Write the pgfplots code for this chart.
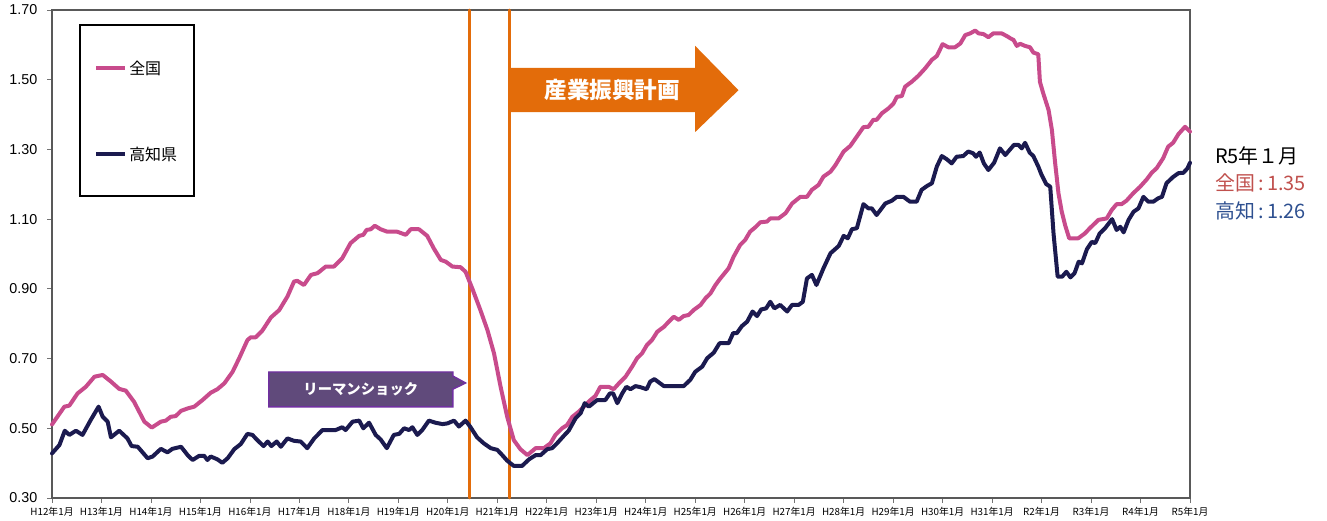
\documentclass[border=0pt]{standalone}
\usepackage{pgfplots}
\pgfplotsset{compat=1.18}
\usepackage{fontspec}
\setmainfont{Noto Sans CJK JP}
\newfontfamily\arial{Liberation Sans}

\definecolor{zenkoku}{HTML}{C84B8C}
\definecolor{kochi}{HTML}{1B1A4F}
\definecolor{orline}{HTML}{E36C0A}
\definecolor{plfill}{HTML}{604A7B}
\definecolor{pledge}{HTML}{7030A0}
\definecolor{redtxt}{HTML}{C0504D}
\definecolor{bluetxt}{HTML}{2E5090}

\begin{document}
\begin{tikzpicture}
\begin{axis}[
  at={(39bp,17.25bp)}, anchor=south west,
  scale only axis, width=853.5bp, height=366bp,
  xmin=0, xmax=276, ymin=0.3, ymax=1.7,
  xtick={0,12,...,276},
  xticklabels={H12年1月,H13年1月,H14年1月,H15年1月,H16年1月,H17年1月,H18年1月,H19年1月,H20年1月,H21年1月,H22年1月,H23年1月,H24年1月,H25年1月,H26年1月,H27年1月,H28年1月,H29年1月,H30年1月,H31年1月,R2年1月,R3年1月,R4年1月,R5年1月},
  ytick={0.3,0.5,...,1.71},
  /pgf/number format/fixed,
  /pgf/number format/fixed zerofill,
  /pgf/number format/precision=2,
  /pgf/number format/assume math mode=true,
  yticklabel style={font=\arial\fontsize{10.8}{12}\selectfont, xshift=-4bp},
  xticklabel style={font=\fontsize{7.4}{8}\selectfont},
  xtick pos=bottom, ytick pos=left, tick align=outside,
  major tick length=3.5bp,
  tick style={draw=gray!90!black, line width=0.6bp},
  axis line style={draw=gray!70!black, line width=1bp},
  clip=false,
  every axis plot/.append style={line join=round, line cap=round},
]
% orange marker lines
\addplot[orline, line width=2.2bp, forget plot] coordinates {(101.3,0.3) (101.3,1.7)};
\addplot[orline, line width=2.2bp, forget plot] coordinates {(111.0,0.3) (111.0,1.7)};

% 全国
\addplot[zenkoku, line width=3bp] coordinates {
(0,0.511) (3,0.562) (4.2,0.565) (6.2,0.600) (8.2,0.619) (10.3,0.648) (12.3,0.653)
(14.3,0.634) (16.3,0.613) (17.9,0.608) (19.9,0.576) (22.4,0.519) (24.2,0.502)
(26.4,0.519) (27.6,0.522) (28.8,0.533) (30,0.535) (31.3,0.550) (32.9,0.557)
(34.5,0.562) (36.5,0.581) (38.5,0.602) (40.1,0.612) (41.8,0.629) (43.8,0.662)
(45.4,0.701) (47.4,0.753) (48.2,0.761) (49.4,0.761) (51,0.780) (53.1,0.818)
(55.1,0.839) (57.1,0.878) (58.7,0.921) (59.5,0.923) (61.1,0.911) (62.8,0.940)
(64.4,0.945) (66.4,0.964) (68.4,0.964) (70.4,0.988) (72.4,1.031) (74.5,1.052)
(75.5,1.055) (76.3,1.069) (77.3,1.071) (78.3,1.081) (79.7,1.071) (81.3,1.064)
(83.7,1.064) (85.8,1.055) (87,1.071) (89,1.071) (91,1.052) (92.6,1.016)
(94.3,0.983) (95.5,0.978) (97.1,0.964) (99.1,0.962) (100.3,0.949) (101.9,0.902)
(103.9,0.839) (105.6,0.782) (107.2,0.715) (108.8,0.619) (110.4,0.533) (112,0.466)
(113.6,0.440) (115.3,0.423) (117.3,0.443) (119.3,0.443) (120.9,0.457) (122.1,0.481)
(123.7,0.500) (124.9,0.509) (126.2,0.533) (127.8,0.548) (129,0.562) (130.6,0.581)
(131.8,0.593) (133,0.619) (135,0.619) (136.2,0.612) (137.5,0.629) (139.1,0.648)
(140.7,0.677) (141.9,0.701) (143.1,0.715) (144.3,0.739) (145.5,0.753) (146.8,0.777)
(148.4,0.791) (149.6,0.806) (150.8,0.820) (152,0.811) (153.2,0.822) (154.4,0.825)
(155.6,0.839) (157.3,0.854) (158.5,0.873) (159.7,0.887) (160.9,0.911) (162.1,0.930)
(164.1,0.959) (165.3,0.992) (166.9,1.026) (168.1,1.040) (169.3,1.064) (170.6,1.077)
(171.8,1.091) (173.4,1.093) (174.2,1.102) (176.2,1.102) (177.9,1.117) (179.5,1.145)
(181.5,1.164) (183.1,1.164) (184.3,1.184) (185.9,1.198) (187.1,1.222) (188.8,1.236)
(190,1.255) (192,1.294) (193.6,1.310) (195.2,1.337) (196.8,1.364) (198,1.365)
(199.2,1.385) (200,1.385) (201.3,1.404) (202.9,1.418) (204.1,1.432) (204.9,1.451)
(206.1,1.453) (206.9,1.480) (208.5,1.494) (210.1,1.511) (211.8,1.533) (213.4,1.557)
(214.6,1.568) (216,1.602) (217.4,1.593) (219,1.593) (220.3,1.604) (221.5,1.628)
(222.7,1.633) (223.9,1.641) (224.7,1.633) (225.9,1.631) (227.1,1.622) (228.3,1.633)
(230.3,1.633) (231.6,1.625) (232.4,1.619) (233.2,1.614) (234,1.597) (234.8,1.603)
(236,1.597) (237.2,1.593) (238,1.578) (239.2,1.573) (239.6,1.494) (240.4,1.461)
(241.7,1.413) (242.5,1.356) (243.3,1.260) (244.1,1.174) (244.9,1.121) (245.7,1.083)
(246.7,1.045) (248.9,1.045) (250.5,1.059) (251.7,1.074) (253.8,1.098) (255.8,1.102)
(257,1.126) (258.2,1.143) (259.4,1.143) (260.6,1.153) (262.2,1.174) (263.9,1.193)
(265.5,1.214) (266.7,1.233) (267.9,1.246) (269.5,1.275) (270.7,1.308) (271.9,1.319)
(273.2,1.344) (274.8,1.365) (276,1.351)
};

% 高知県
\addplot[kochi, line width=3bp] coordinates {
(0,0.428) (1.8,0.452) (3.1,0.493) (4.2,0.481) (5.8,0.493) (7.4,0.481) (9.4,0.524)
(11.3,0.562) (12.3,0.533) (13.5,0.519) (14.3,0.474) (16.3,0.493) (18.3,0.471)
(19.3,0.449) (20.8,0.447) (23.2,0.414) (24.4,0.419) (26.4,0.441) (28,0.431)
(29.2,0.441) (31.3,0.447) (32.9,0.423) (34.1,0.409) (35.7,0.421) (36.9,0.421)
(37.7,0.409) (38.5,0.419) (40.1,0.411) (41.3,0.401) (42.6,0.414) (44.2,0.440)
(45.8,0.455) (47.4,0.484) (48.6,0.481) (49.8,0.466) (51.3,0.449) (52.3,0.462)
(53.2,0.449) (54.5,0.462) (55.5,0.447) (57.1,0.471) (58.7,0.464) (60.3,0.462)
(61.9,0.443) (63.6,0.471) (65.6,0.495) (68.8,0.495) (70.4,0.503) (71.2,0.495)
(72.9,0.519) (74.5,0.522) (75.5,0.500) (76.9,0.516) (78.5,0.481) (79.7,0.468)
(81.2,0.443) (82.9,0.481) (84.2,0.484) (85.4,0.500) (86.6,0.495) (87.4,0.503)
(88.6,0.481) (89.8,0.495) (91.4,0.522) (93,0.516) (94.7,0.512) (95.9,0.514)
(97.5,0.522) (98.7,0.505) (100.3,0.522) (101.4,0.505) (103.1,0.474) (104.7,0.457)
(106.4,0.443) (108,0.438) (109.2,0.423) (110.4,0.407) (112,0.392) (114,0.392)
(115.7,0.411) (117.3,0.423) (118.5,0.423) (120.1,0.440) (121.3,0.443) (122.5,0.457)
(124.1,0.478) (125.3,0.493) (127,0.529) (128.2,0.543) (129.2,0.572) (130.2,0.562)
(132.2,0.581) (134.2,0.581) (135.3,0.600) (136.1,0.600) (137.1,0.572) (138.3,0.600)
(139.3,0.619) (140.3,0.612) (141.5,0.621) (142.7,0.618) (144.2,0.612) (145.1,0.634)
(146.1,0.641) (148.4,0.621) (153.2,0.621) (154.8,0.639) (156,0.662) (157.7,0.677)
(158.9,0.701) (160.5,0.717) (161.9,0.744) (164.1,0.744) (165.2,0.773) (166.1,0.773)
(167.3,0.793) (168.6,0.806) (169.9,0.835) (171,0.822) (172,0.841) (173.2,0.844)
(174.2,0.863) (175.2,0.844) (176.6,0.854) (178.3,0.835) (179.5,0.854) (181.1,0.854)
(182.1,0.863) (183.1,0.930) (184.3,0.940) (185.4,0.911) (187.1,0.959) (188.8,1.002)
(190.8,1.023) (192,1.052) (193,1.045) (194,1.071) (195.2,1.074) (196.8,1.143)
(198,1.131) (198.8,1.131) (200,1.112) (202.1,1.145) (203.7,1.153) (204.9,1.164)
(206.5,1.164) (208.1,1.150) (209.7,1.150) (210.9,1.184) (212.2,1.195) (213.4,1.203)
(214.6,1.251) (215.8,1.281) (217,1.272) (218.2,1.260) (219.4,1.279) (221,1.281)
(222.2,1.294) (223.4,1.289) (224.1,1.279) (225,1.291) (226,1.260) (227.1,1.241)
(228.5,1.262) (229.9,1.303) (231.2,1.284) (233.3,1.313) (234.4,1.313) (235.2,1.303)
(236,1.319) (237.1,1.291) (238,1.281) (239.2,1.251) (240,1.227) (241.1,1.201)
(242.1,1.193) (242.9,1.059) (243.9,0.935) (245,0.935) (246,0.949) (247,0.933)
(248,0.945) (249,0.978) (249.8,0.973) (251,1.014) (252.2,1.035) (253,1.031)
(254.1,1.059) (255.4,1.074) (257.1,1.100) (258.2,1.069) (259.1,1.078) (259.9,1.062)
(261.1,1.098) (262.3,1.121) (263.5,1.131) (264.7,1.164) (265.9,1.150) (267.1,1.150)
(268.3,1.160) (269.2,1.164) (270.3,1.203) (271.8,1.220) (273.2,1.232) (274.4,1.233)
(275.4,1.246) (276,1.262)
};

% 産業振興計画 arrow
\fill[orline] (axis cs:111,1.407) -- (axis cs:156,1.407) -- (axis cs:156,1.350)
  -- (axis cs:166.5,1.470) -- (axis cs:156,1.597) -- (axis cs:156,1.534)
  -- (axis cs:111,1.534) -- cycle;
\node[text=white, font=\bfseries\fontsize{17}{19}\selectfont] at (axis cs:135.9,1.470) {産業振興計画};

% リーマンショック callout
\filldraw[fill=plfill, draw=pledge, line width=1.1bp, line join=miter]
  (axis cs:52.6,0.5615) -- (axis cs:52.6,0.6615) -- (axis cs:97.2,0.6615)
  -- (axis cs:97.2,0.650) -- (axis cs:100.3,0.630) -- (axis cs:97.2,0.612)
  -- (axis cs:97.2,0.5615) -- cycle;
\node[text=white, font=\bfseries\fontsize{10.8}{12}\selectfont] at (axis cs:74.9,0.6115) {リーマンショック};
\end{axis}

% legend box
\draw[black, line width=0.8bp] (60bp,243.75bp) rectangle (145.5bp,372bp);
\draw[zenkoku, line width=3bp] (72bp,339.75bp) -- (93.75bp,339.75bp);
\node[anchor=west, inner sep=0pt, font=\fontsize{12}{14}\selectfont] at (96.75bp,339.75bp) {全国};
\draw[kochi, line width=3bp] (72bp,274.9bp) -- (93.75bp,274.9bp);
\node[anchor=west, inner sep=0pt, font=\fontsize{12}{14}\selectfont] at (96.75bp,274.9bp) {高知県};

% latest values
\node[anchor=west, inner sep=0pt, font=\fontsize{15}{17}\selectfont] at (911.25bp,273.75bp) {R5年１月};
\node[anchor=west, inner sep=0pt, text=redtxt, font=\fontsize{15}{17}\selectfont] at (911.25bp,253.5bp) {全国\,:\,1.35};
\node[anchor=west, inner sep=0pt, text=bluetxt, font=\fontsize{15}{17}\selectfont] at (911.25bp,232.5bp) {高知\,:\,1.26};

\pgfresetboundingbox
\path[use as bounding box] (0,0) rectangle (995.25bp,390.75bp);
\end{tikzpicture}
\end{document}
